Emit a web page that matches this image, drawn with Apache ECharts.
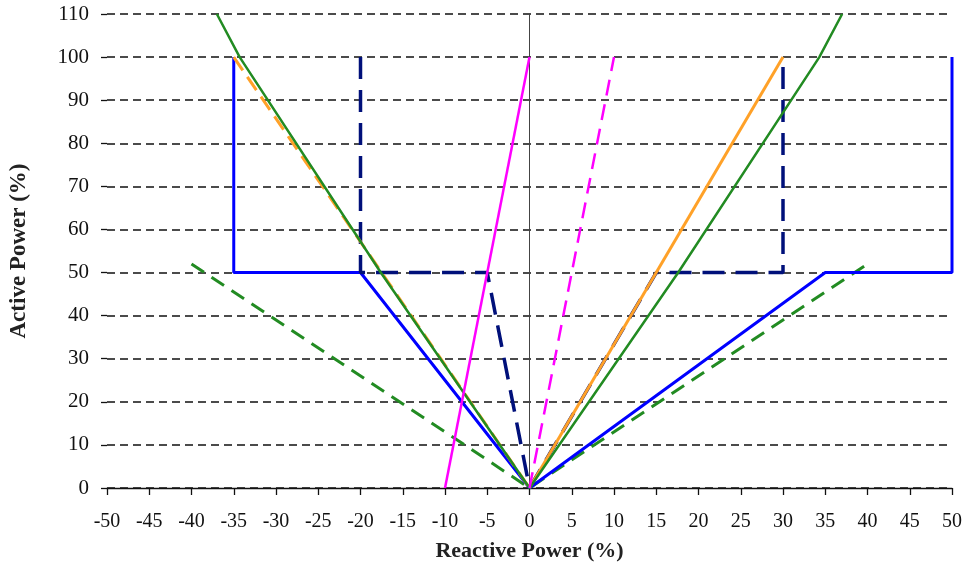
<!DOCTYPE html>
<html>
<head>
<meta charset="utf-8">
<script src="https://cdn.jsdelivr.net/npm/echarts@6/dist/echarts.min.js"></script>
<style>
  html, body { margin: 0; padding: 0; background: #fff; }
  #chart { width: 966px; height: 567px; }
</style>
</head>
<body>
<div id="chart"></div>
<script>
// x = reactive power (%), y = active power (%)
var blueSolid = [[-35, 100], [-35, 50], [-20, 50], [0, 0], [35, 50], [50, 50], [50, 100]];
var navyDashed = [[-20, 100], [-20, 50], [-5, 50], [0, 0], [15, 50], [30, 50], [30, 100]];
var orangeDashed = [[-35, 100], [0, 0]];
var orangeSolid = [[0, 0], [30, 100]];
var greenSolid = [[-37, 110], [-34.3, 100], [-17.6, 50], [0, 0], [17.6, 50], [34.3, 100], [37, 110]];
var greenDashed = [[-40, 52], [0, 0], [40, 52]];
var magentaSolid = [[-10, 0], [0, 100]];
var magentaDashed = [[0, 0], [10, 100]];

var xTicks = { min: -50, max: 50, step: 5 };
var yTicks = { min: 0, max: 110, step: 10 };

var serif = 'Liberation Serif';
var chart = echarts.init(document.getElementById('chart'));

function line(data, color, width, dash, z) {
    return {
        type: 'line',
        data: data,
        symbol: 'none',
        silent: true,
        z: z,
        lineStyle: { color: color, width: width, type: dash || 'solid' }
    };
}

var series = [
    line(greenDashed, '#228b22', 3, [15, 9], 2),
    line(blueSolid, '#0000ff', 3, null, 3),
    line(navyDashed, '#00107a', 3.5, [22, 11], 4),
    line(orangeDashed, '#ffa128', 3, [16, 8], 5),
    line(orangeSolid, '#ffa128', 3, null, 5),
    line(greenSolid, '#228b22', 2.5, null, 6),
    line(magentaSolid, '#ff00ff', 2.5, null, 7),
    line(magentaDashed, '#ff00ff', 2.5, [16, 9], 7)
];
// vertical reference line at Q = 0
series.push({
    type: 'line',
    data: [],
    markLine: {
        silent: true,
        symbol: 'none',
        label: { show: false },
        lineStyle: { color: '#444', width: 1, type: 'solid' },
        data: [{ xAxis: 0 }]
    }
});

chart.setOption({
    animation: false,
    grid: { left: 107, right: 14, top: 14, bottom: 78 },
    xAxis: {
        type: 'value',
        min: xTicks.min,
        max: xTicks.max,
        interval: xTicks.step,
        name: 'Reactive Power (%)',
        nameLocation: 'middle',
        nameGap: 52,
        nameTextStyle: { fontFamily: serif, fontWeight: 'bold', fontSize: 22, color: '#222' },
        axisLine: { onZero: false, lineStyle: { color: '#111', width: 1.3 } },
        axisTick: { show: true, length: 7, lineStyle: { color: '#111', width: 1.3 } },
        axisLabel: { fontFamily: serif, fontSize: 20, color: '#111', margin: 24 },
        splitLine: { show: false }
    },
    yAxis: {
        type: 'value',
        min: yTicks.min,
        max: yTicks.max,
        interval: yTicks.step,
        name: 'Active Power (%)',
        nameLocation: 'middle',
        nameGap: 76,
        nameTextStyle: { fontFamily: serif, fontWeight: 'bold', fontSize: 23, color: '#222' },
        axisLine: { show: false, onZero: false },
        axisTick: { show: true, length: 6, lineStyle: { color: '#111', width: 1.3 } },
        axisLabel: { fontFamily: serif, fontSize: 21, color: '#111', margin: 18 },
        splitLine: { show: true, lineStyle: { color: '#111', width: 1.5, type: [8, 5] } }
    },
    series: series
});
</script>
</body>
</html>
